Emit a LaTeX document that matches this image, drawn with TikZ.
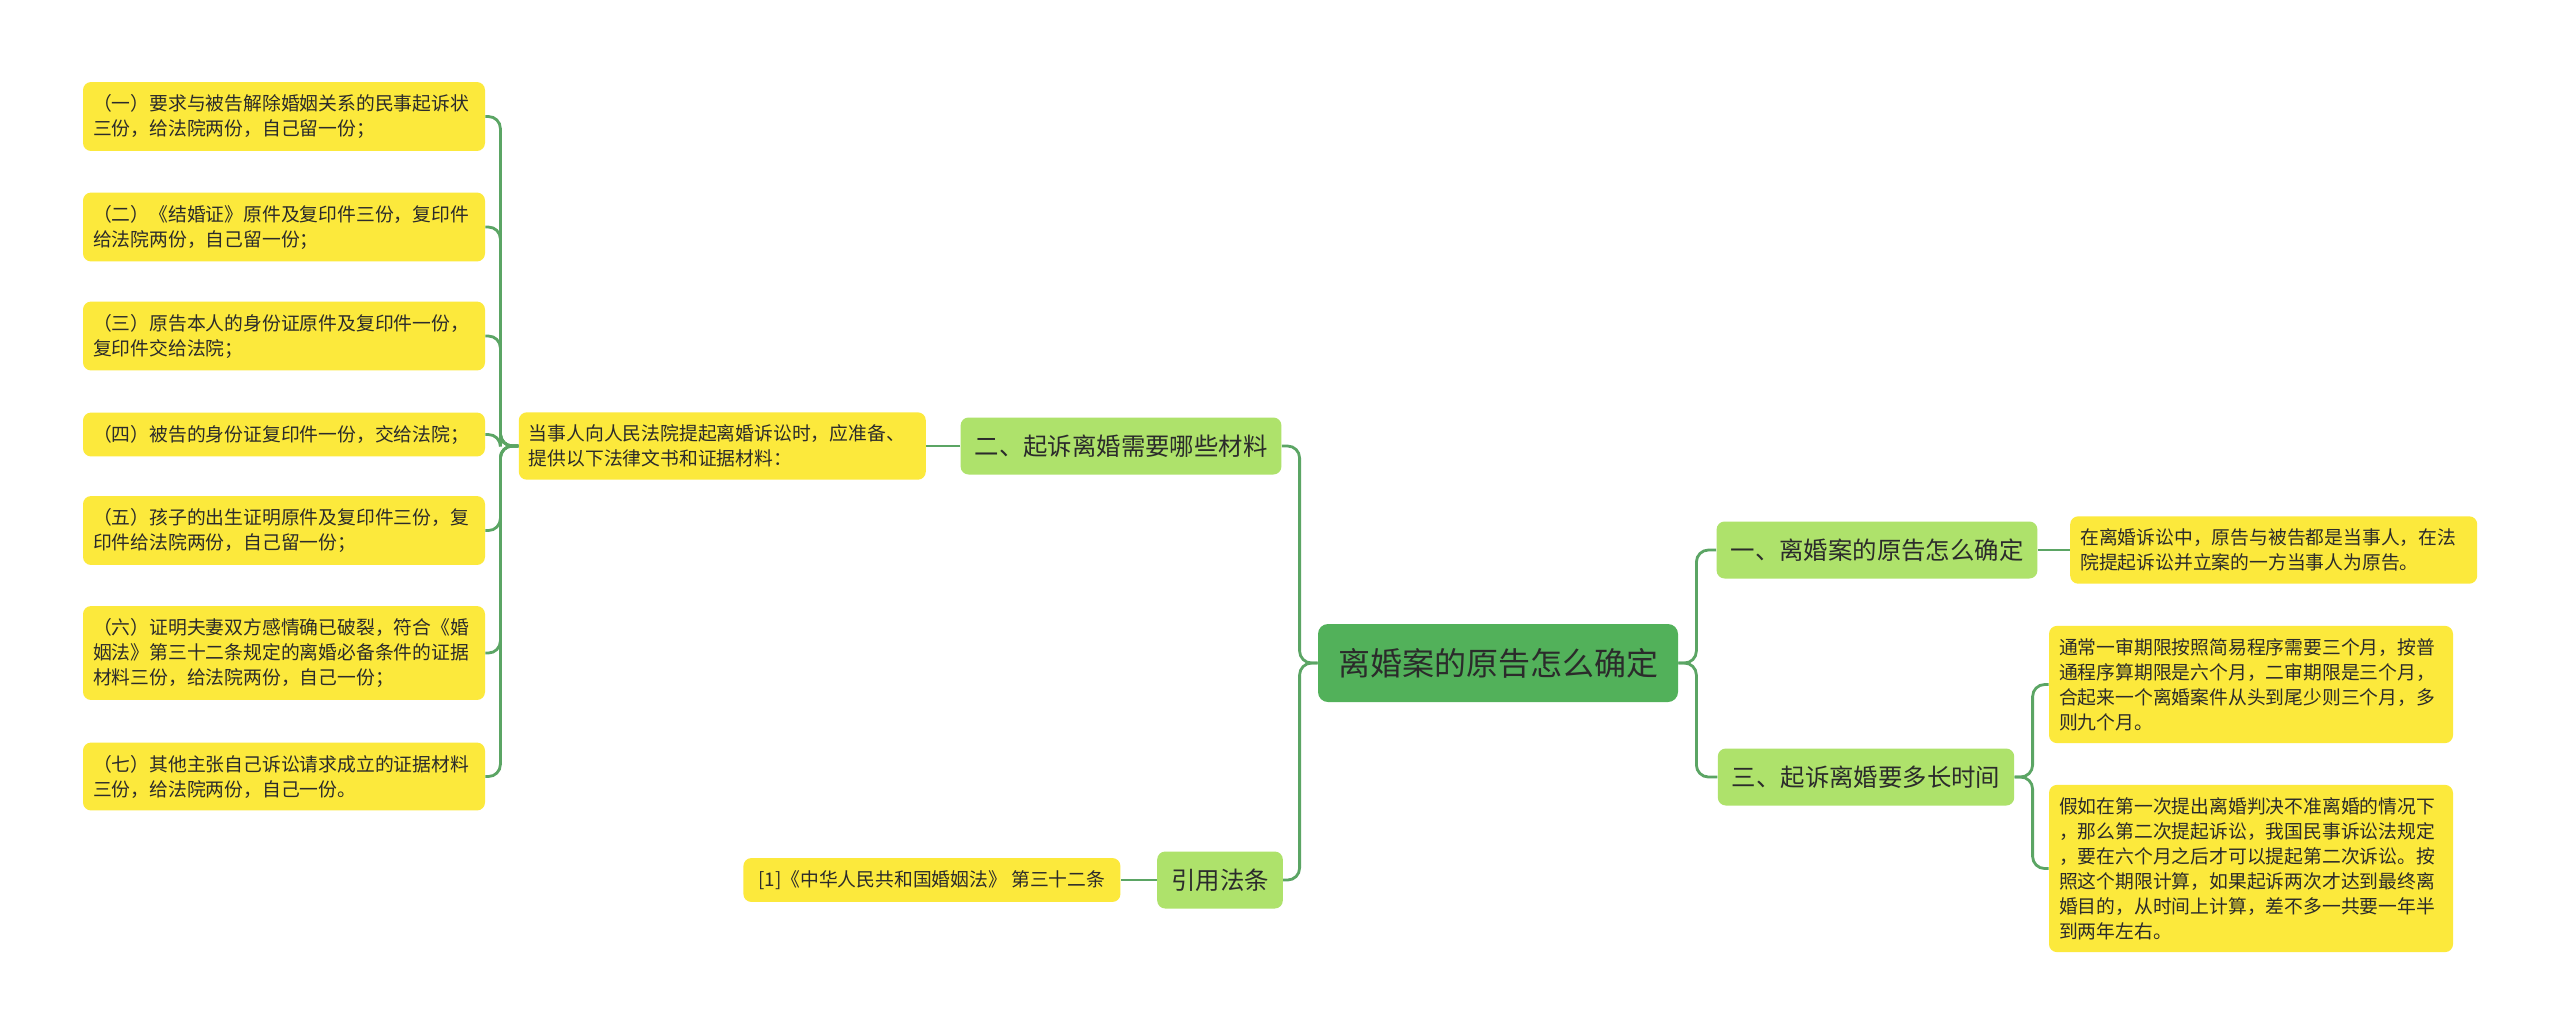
\documentclass[tikz,border=0pt]{standalone}
\usepackage{fontspec}
\setmainfont{Noto Sans CJK SC}
\usetikzlibrary{positioning}

\definecolor{leafyellow}{HTML}{FCE93C}
\definecolor{subgreen}{HTML}{AEE26B}
\definecolor{centergreen}{HTML}{52B15A}
\definecolor{linkgreen}{HTML}{5BA564}
\definecolor{inkgray}{HTML}{2B2B2B}

\tikzset{
	leaf/.style={fill=leafyellow, rounded corners=4pt, align=left, inner xsep=5pt, inner ysep=6.2pt,
		font=\fontsize{9.4}{12.5}\selectfont, text=inkgray},
	topic/.style={fill=subgreen, rounded corners=4pt, inner xsep=7pt, minimum height=28.5pt,
		font=\fontsize{12.2}{14}\selectfont, text=inkgray},
	central/.style={fill=centergreen, rounded corners=5pt, inner xsep=10pt, minimum height=39pt,
		font=\fontsize{16}{18}\selectfont, text=inkgray},
	link/.style={draw=linkgreen, line width=1.4pt, rounded corners=6pt},
	toleft/.style={to path={-- ++(-18,0) |- (\tikztotarget)}},
	toright/.style={to path={-- ++(18,0) |- (\tikztotarget)}}
}

\begin{document}
\begin{tikzpicture}[x=0.5pt,y=-0.5pt,node distance=17pt]
	\fill[white] (0,0) rectangle (2560,1035);
	\useasboundingbox (0,0) rectangle (2560,1035);

	% centre and main topics
	\node[central] (root) at (1498,663) {离婚案的原告怎么确定};
	\node[topic] (m2) at (1121,446) {二、起诉离婚需要哪些材料};
	\node[topic] (cite) at (1220,880) {引用法条};
	\node[topic] (m1) at (1877,550) {一、离婚案的原告怎么确定};
	\node[topic] (m3) at (1866,777) {三、起诉离婚要多长时间};

	% left side
	\node[leaf, text width=193.5pt, left=of m2] (intro) {当事人向人民法院提起离婚诉讼时，应准备、\\提供以下法律文书和证据材料：};
	\node[leaf, minimum width=188.5pt, left=18pt of cite] (law) {[1]《中华人民共和国婚姻法》 第三十二条};
	\node[leaf, text width=191pt] (d1) at (284,116.5) {（一）要求与被告解除婚姻关系的民事起诉状\\三份，给法院两份，自己留一份；};
	\node[leaf, text width=191pt] (d2) at (284,227) {（二）《结婚证》原件及复印件三份，复印件\\给法院两份，自己留一份；};
	\node[leaf, text width=191pt] (d3) at (284,336) {（三）原告本人的身份证原件及复印件一份，\\复印件交给法院；};
	\node[leaf, text width=191pt] (d4) at (284,434.5) {（四）被告的身份证复印件一份，交给法院；};
	\node[leaf, text width=191pt] (d5) at (284,530.5) {（五）孩子的出生证明原件及复印件三份，复\\印件给法院两份，自己留一份；};
	\node[leaf, text width=191pt] (d6) at (284,653) {（六）证明夫妻双方感情确已破裂，符合《婚\\姻法》第三十二条规定的离婚必备条件的证据\\材料三份，给法院两份，自己一份；};
	\node[leaf, text width=191pt] (d7) at (284,776.5) {（七）其他主张自己诉讼请求成立的证据材料\\三份，给法院两份，自己一份。};

	% right side
	\node[leaf, text width=193.5pt, right=16pt of m1] (r1) {在离婚诉讼中，原告与被告都是当事人，在法\\院提起诉讼并立案的一方当事人为原告。};
	\node[leaf, text width=192pt] (r2) at (2251,684.5) {通常一审期限按照简易程序需要三个月，按普\\通程序算期限是六个月，二审期限是三个月，\\合起来一个离婚案件从头到尾少则三个月，多\\则九个月。};
	\node[leaf, text width=192pt] (r3) at (2251,868.5) {假如在第一次提出离婚判决不准离婚的情况下\\，那么第二次提起诉讼，我国民事诉讼法规定\\，要在六个月之后才可以提起第二次诉讼。按\\照这个期限计算，如果起诉两次才达到最终离\\婚目的，从时间上计算，差不多一共要一年半\\到两年左右。};

	\path[link] (root.west) edge[toleft] (m2.east)
		(root.west) edge[toleft] (cite.east)
		(root.east) edge[toright] (m1.west)
		(root.east) edge[toright] (m3.west)
		(m2.west) edge (intro.east)
		(cite.west) edge (law.east)
		(m1.east) edge (r1.west)
		(m3.east) edge[toright] (r2.west)
		(m3.east) edge[toright] (r3.west)
		(intro.west) edge[toleft] (d1.east)
		(intro.west) edge[toleft] (d2.east)
		(intro.west) edge[toleft] (d3.east)
		(intro.west) edge[toleft] (d4.east)
		(intro.west) edge[toleft] (d5.east)
		(intro.west) edge[toleft] (d6.east)
		(intro.west) edge[toleft] (d7.east);
\end{tikzpicture}
\end{document}
